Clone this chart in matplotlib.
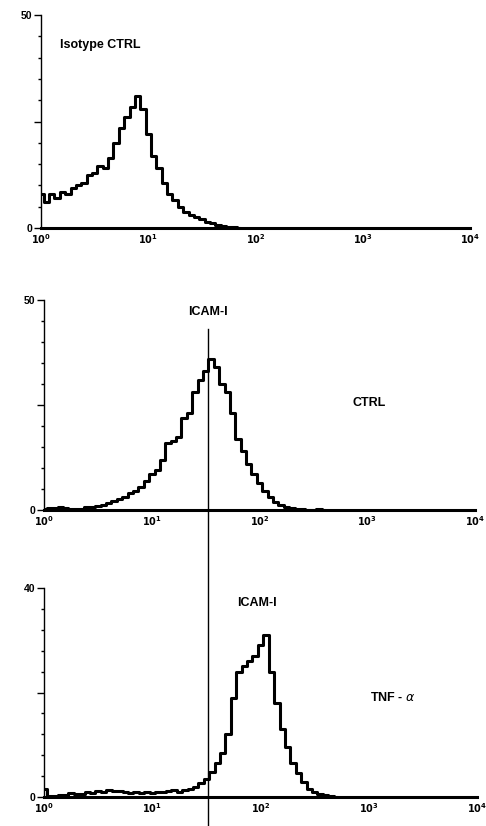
import numpy as np
import matplotlib
matplotlib.use("Agg")
import matplotlib.pyplot as plt
from matplotlib.lines import Line2D

plt.rcParams['font.family'] = ['Liberation Sans', 'DejaVu Sans']

# channel positions (log10 fluorescence), spaced 0.05 decade
iso_log = np.round(np.arange(0, 1.851, 0.05), 2)
iso_counts = [8, 6, 8, 7, 8.5, 8, 9.5, 10, 10.5, 12.5, 13, 14.5, 14, 16.5, 20, 23.5,
              26, 28.5, 31, 28, 22, 17, 14, 10.5, 8, 6.5, 5, 3.8, 3, 2.5, 2, 1.5,
              1.1, 0.8, 0.5, 0.3, 0.2, 0]

ctrl_log = np.round(np.arange(0, 2.601, 0.05), 2)
ctrl_counts = [0.3, 0.5, 0.4, 0.6, 0.5, 0.3, 0.2, 0.3, 0.6, 0.8, 1.0, 1.3, 1.6, 2.2,
               2.6, 3.2, 4.0, 4.6, 5.5, 6.8, 8.5, 9.5, 12, 16, 16.5, 17.5, 22, 23,
               28, 31, 33, 36, 34, 30, 28, 23, 17, 14, 11, 8.5, 6.5, 4.5, 3.2, 2.0,
               1.2, 0.6, 0.4, 0.3, 0.2, 0.1, 0.1, 0.2, 0]

tnf_log = np.round(np.arange(0, 2.701, 0.05), 2)
tnf_counts = [1.5, 0.2, 0.2, 0.3, 0.3, 0.8, 0.6, 0.5, 1.0, 0.8, 1.2, 1.0, 1.3, 1.1,
              1.2, 0.9, 0.8, 1.0, 0.7, 0.9, 0.8, 1.0, 0.9, 1.1, 1.3, 1.0, 1.4, 1.6,
              2.0, 2.6, 3.5, 4.8, 6.5, 8.5, 12, 19, 24, 25, 26, 27, 29, 31, 24, 18,
              13, 9.5, 6.5, 4.5, 2.8, 1.6, 1.0, 0.6, 0.3, 0.1, 0]

gate_x = 10 ** 1.52  # ICAM-I marker line
decades = [1, 10, 100, 1000, 10000]
decade_labels = [r'$\mathbf{10^{0}}$', r'$\mathbf{10^{1}}$', r'$\mathbf{10^{2}}$',
                 r'$\mathbf{10^{3}}$', r'$\mathbf{10^{4}}$']

W, H = 486, 826
fig = plt.figure(figsize=(W / 100, H / 100), dpi=100)


def make_panel(rect, logs, counts, ymax):
    ax = fig.add_axes(rect)
    ax.plot(10 ** np.asarray(logs), counts, drawstyle='steps-mid', color='black', lw=2.2)
    ax.set_xscale('log')
    ax.set_xlim(1, 10000)
    ax.set_ylim(0, ymax)
    for s in ['top', 'right']:
        ax.spines[s].set_visible(False)
    ax.spines['left'].set_linewidth(1.0)
    ax.spines['bottom'].set_linewidth(2.2)
    ax.set_xticks(decades)
    ax.set_xticklabels(decade_labels, fontsize=7)
    ax.xaxis.set_minor_locator(plt.NullLocator())
    ax.tick_params(axis='x', length=0, pad=3)
    ax.set_yticks([0, ymax / 2, ymax])
    ax.set_yticklabels(['0', '', str(ymax)], fontsize=7.5, fontweight='bold')
    ax.set_yticks(np.linspace(0, ymax, 11), minor=True)
    ax.tick_params(axis='y', which='major', length=5, width=1, pad=1)
    ax.tick_params(axis='y', which='minor', length=2.5, width=1)
    return ax


lab = dict(fontsize=9, fontweight='bold', va='center')

ax1 = make_panel([41 / W, 1 - 228 / H, 429 / W, 213 / H], iso_log, iso_counts, 50)
ax1.text(0.044, 0.86, 'Isotype CTRL', transform=ax1.transAxes, ha='left', **lab)

ax2 = make_panel([44 / W, 1 - 510 / H, 431 / W, 210 / H], ctrl_log, ctrl_counts, 50)
ax2.text(0.38, 0.943, 'ICAM-I', transform=ax2.transAxes, ha='center', **lab)
ax2.text(0.754, 0.51, 'CTRL', transform=ax2.transAxes, ha='center', **lab)

ax3 = make_panel([44 / W, 1 - 797 / H, 433 / W, 209 / H], tnf_log, tnf_counts, 40)
ax3.text(0.492, 0.928, 'ICAM-I', transform=ax3.transAxes, ha='center', **lab)
ax3.text(0.806, 0.478, r'TNF - $\alpha$', transform=ax3.transAxes, ha='center', **lab)

# marker line running through the two ICAM-I panels
fx = fig.transFigure.inverted().transform(ax2.transData.transform((gate_x, 0)))[0]
fig.add_artist(Line2D([fx, fx], [1 - 329 / H, 0], color='black', lw=1.0))

fig.savefig('out.png', dpi=100)
